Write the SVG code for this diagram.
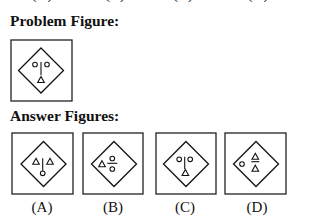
<svg xmlns="http://www.w3.org/2000/svg" width="317" height="219" viewBox="0 0 317 219">
  <style>
    .head { font-family: "Liberation Serif", "Times New Roman", serif; font-weight: bold; font-size: 15.5px; fill: #111; }
    .lab { font-family: "Liberation Serif", "Times New Roman", serif; font-size: 15px; fill: #111; text-anchor: middle; }
    .box { fill: #fff; stroke: #222; stroke-width: 1.3; }
    .dia { fill: none; stroke: #111; stroke-width: 1.3; stroke-linejoin: miter; }
    .sym { fill: none; stroke: #111; stroke-width: 1.1; }
  </style>
  <defs>
    <polygon id="diamond" points="0,-22.5 22.5,0 0,22.5 -22.5,0"/>
    <circle id="c" r="2.3"/>
    <polygon id="t" points="0,0 3.3,6 -3.3,6"/>
  </defs>
  <rect width="317" height="219" fill="#fff"/>

  <g id="prev-labels">
    <text class="lab" x="42" y="-1">(A)</text>
    <text class="lab" x="115" y="-1">(B)</text>
    <text class="lab" x="183" y="-1">(C)</text>
    <text class="lab" x="258" y="-1">(D)</text>
  </g>

  <text class="head" x="10" y="26">Problem Figure:</text>
  <text class="head" x="10" y="121">Answer Figures:</text>

  <g id="problem">
    <rect class="box" x="11" y="40" width="61" height="61"/>
    <g transform="translate(41,70.5)">
      <use href="#diamond" class="dia"/>
      <use href="#c" class="sym" x="-6" y="-6"/>
      <use href="#c" class="sym" x="6" y="-6"/>
      <line class="sym" x1="0" y1="-8.5" x2="0" y2="4.5"/>
      <use href="#t" class="sym" x="0" y="6"/>
    </g>
  </g>

  <g id="answer-a">
    <rect class="box" x="12" y="133" width="61" height="61"/>
    <g transform="translate(43.5,164)">
      <use href="#diamond" class="dia"/>
      <use href="#t" class="sym" x="-7.5" y="-5.7"/>
      <use href="#t" class="sym" x="6.5" y="-5.7"/>
      <line class="sym" x1="-0.8" y1="-5.7" x2="-0.8" y2="6.8"/>
      <use href="#c" class="sym" x="-0.8" y="9.3"/>
    </g>
  </g>
  <text class="lab" x="42" y="212">(A)</text>

  <g id="answer-b">
    <rect class="box" x="83" y="133" width="60" height="61"/>
    <g transform="translate(114,164)">
      <use href="#diamond" class="dia"/>
      <use href="#t" class="sym" x="-12" y="-3.3"/>
      <line class="sym" x1="-6.7" y1="-0.7" x2="3.3" y2="-0.7"/>
      <use href="#c" class="sym" x="-1.7" y="-5.5"/>
      <use href="#c" class="sym" x="-1.7" y="5"/>
    </g>
  </g>
  <text class="lab" x="113" y="212">(B)</text>

  <g id="answer-c">
    <rect class="box" x="156" y="133" width="60" height="61"/>
    <g transform="translate(186,164)">
      <use href="#diamond" class="dia"/>
      <use href="#c" class="sym" x="-6.8" y="-4.7"/>
      <use href="#c" class="sym" x="4.2" y="-4.7"/>
      <line class="sym" x1="-1.3" y1="-7.3" x2="-1.3" y2="5"/>
      <use href="#t" class="sym" x="-0.6" y="5.5"/>
    </g>
  </g>
  <text class="lab" x="185" y="212">(C)</text>

  <g id="answer-d">
    <rect class="box" x="225" y="133" width="61" height="61"/>
    <g transform="translate(256,164)">
      <use href="#diamond" class="dia"/>
      <use href="#c" class="sym" x="-14" y="0"/>
      <use href="#t" class="sym" x="-0.7" y="-10.7"/>
      <line class="sym" x1="-4.7" y1="-2.3" x2="3.3" y2="-2.3"/>
      <use href="#t" class="sym" x="-0.7" y="1.2"/>
    </g>
  </g>
  <text class="lab" x="257" y="212">(D)</text>
</svg>
